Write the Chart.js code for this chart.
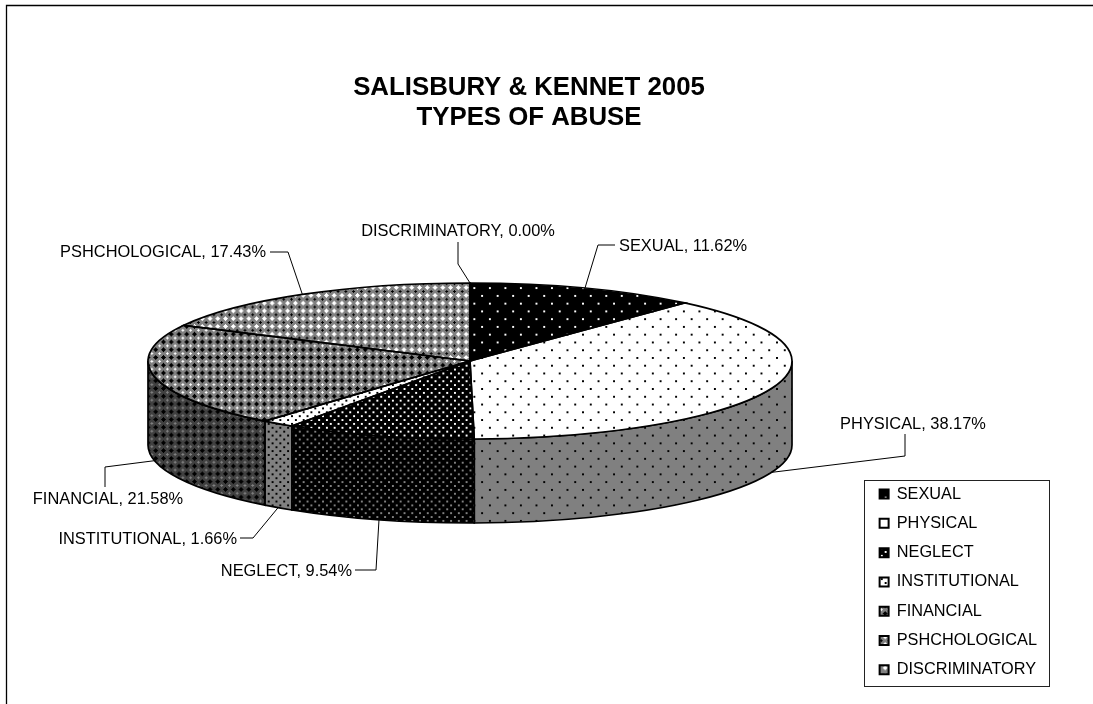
<!DOCTYPE html>
<html>
<head>
<meta charset="utf-8">
<title>Salisbury & Kennet 2005</title>
<script src="https://cdn.jsdelivr.net/npm/chart.js@4"></script>
<style>
    html, body { margin: 0; padding: 0; background: #fff; }
    canvas { display: block; }
</style>
</head>
<body>
<canvas id="chart" width="1093" height="704"></canvas>
<script>
// chart data
var titleLines = ['SALISBURY & KENNET 2005', 'TYPES OF ABUSE'];
var categories = ['SEXUAL', 'PHYSICAL', 'NEGLECT', 'INSTITUTIONAL', 'FINANCIAL', 'PSHCHOLOGICAL', 'DISCRIMINATORY'];
var percentages = [11.62, 38.17, 9.54, 1.66, 21.58, 17.43, 0.00];

// where the flattened pie sits on the page
var pieCentreX = 470, pieCentreY = 361, pieRadiusX = 322, pieRadiusY = 78, pieDepth = 84;
var labelFont = '16.4px "Liberation Sans", Arial, sans-serif';

// label placement: [[leader points after the rim], text x, text y, text align], one per category
var labelLayout = [
    [[[598, 245], [615, 245]], 619, 246.5, 'left'],
    [[[905, 456], [905, 434]], 913, 424.5, 'center'],
    [[[376, 570], [355, 570]], 352, 571.5, 'right'],
    [[[253, 538], [240, 538]], 237, 539.5, 'right'],
    [[[105, 467], [105, 487]], 108, 499.5, 'center'],
    [[[288, 252], [270, 252]], 266, 252.5, 'right'],
    [[[458, 264], [458, 242]], 458, 231.5, 'center']
];

// tiles use '#' black, 'o' paper, ':' half paper
function dotTile(size, dot, ground) {
    var rows = [];
    for (var y = 0; y < size; y++) {
        var row = '';
        for (var x = 0; x < size; x++) {
            var first = x < 2 && y < 2;
            var second = x >= size / 2 && x < size / 2 + 2 && y >= size / 2 && y < size / 2 + 2;
            row += (first || second) ? dot : ground;
        }
        rows.push(row);
    }
    return rows;
}

function crossTile(cross, dot) {
    var rows = [];
    for (var y = 0; y < 8; y++) {
        var row = '';
        for (var x = 0; x < 8; x++) {
            var nearCross = Math.min(x, 8 - x) + Math.min(y, 8 - y) <= 2;
            var nearDot = Math.abs(x - 4) + Math.abs(y - 4) <= 1;
            row += nearCross ? cross : nearDot ? dot : ':';
        }
        rows.push(row);
    }
    return rows;
}

var sliceTiles = [
    dotTile(16, 'o', '#'),
    dotTile(16, '#', 'o'),
    dotTile(8, 'o', '#'),
    dotTile(8, '#', 'o'),
    crossTile('#', 'o'),
    crossTile('o', '#'),
    crossTile('o', ':')
];

var tileScale = 0.97;

function makePattern(rows, paper, half) {
    var size = rows.length;
    var tile = document.createElement('canvas');
    tile.width = size;
    tile.height = size;
    var tctx = tile.getContext('2d');
    var colours = { '#': '#000000', 'o': paper, ':': half };
    rows.forEach(function(row, y) {
        row.split('').forEach(function(ch, x) {
            tctx.fillStyle = colours[ch];
            tctx.fillRect(x, y, 1, 1);
        });
    });
    var pattern = tctx.createPattern(tile, 'repeat');
    pattern.setTransform(new DOMMatrix().scale(tileScale));
    return pattern;
}

var topPatterns = sliceTiles.map(function(rows) { return makePattern(rows, '#ffffff', '#808080'); });
var wallPatterns = sliceTiles.map(function(rows) { return makePattern(rows, '#808080', '#404040'); });

var pie3d = {
    id: 'pie3d',
    beforeDraw: function(chart) {
        var ctx = chart.ctx;
        // page frame, runs off the right and bottom edges
        ctx.save();
        ctx.fillStyle = '#ffffff';
        ctx.fillRect(0, 0, chart.width, chart.height);
        ctx.beginPath();
        ctx.moveTo(6.5, chart.height);
        ctx.lineTo(6.5, 5.5);
        ctx.lineTo(chart.width, 5.5);
        ctx.strokeStyle = '#000000';
        ctx.lineWidth = 1.3;
        ctx.stroke();
        // legend box
        ctx.lineWidth = 1;
        ctx.strokeStyle = '#222222';
        ctx.strokeRect(864.5, 480.5, 185, 206);
        ctx.restore();
    },
    beforeDatasetsDraw: function(chart) {
        var ctx = chart.ctx;
        var arcs = chart.getDatasetMeta(0).data;
        // side wall, only the part of each slice facing the viewer
        ctx.save();
        ctx.strokeStyle = '#000000';
        ctx.lineWidth = 1.7;
        arcs.forEach(function(arc, i) {
            var from = Math.max(arc.startAngle, 0);
            var to = Math.min(arc.endAngle, Math.PI);
            if (to <= from) return;
            ctx.beginPath();
            ctx.ellipse(pieCentreX, pieCentreY, pieRadiusX, pieRadiusY, 0, from, to);
            ctx.ellipse(pieCentreX, pieCentreY + pieDepth, pieRadiusX, pieRadiusY, 0, to, from, true);
            ctx.closePath();
            ctx.fillStyle = wallPatterns[i];
            ctx.fill();
            ctx.stroke();
        });
        ctx.restore();

        // squash the library's round pie into the top ellipse
        var r = arcs[0].outerRadius;
        ctx.save();
        ctx.translate(pieCentreX, pieCentreY);
        ctx.scale(pieRadiusX / r, pieRadiusY / r);
        ctx.translate(-arcs[0].x, -arcs[0].y);
        var toScreen = ctx.getTransform().inverse().scale(tileScale);
        topPatterns.forEach(function(p) { p.setTransform(toScreen); });
    },
    afterDatasetsDraw: function(chart) {
        var ctx = chart.ctx;
        ctx.restore();
        topPatterns.forEach(function(p) { p.setTransform(new DOMMatrix().scale(tileScale)); });
        var arcs = chart.getDatasetMeta(0).data;
        ctx.save();
        ctx.strokeStyle = '#000000';
        ctx.lineWidth = 1.7;
        arcs.forEach(function(arc) {
            ctx.beginPath();
            ctx.moveTo(pieCentreX, pieCentreY);
            ctx.ellipse(pieCentreX, pieCentreY, pieRadiusX, pieRadiusY, 0, arc.startAngle, arc.endAngle);
            ctx.closePath();
            ctx.stroke();
        });
        ctx.restore();
    },
    afterDraw: function(chart) {
        var ctx = chart.ctx;
        var arcs = chart.getDatasetMeta(0).data;
        ctx.save();
        ctx.font = labelFont;
        ctx.fillStyle = '#000000';
        ctx.strokeStyle = '#000000';
        ctx.lineWidth = 1;
        ctx.textBaseline = 'middle';
        arcs.forEach(function(arc, i) {
            var layout = labelLayout[i];
            var mid = (arc.startAngle + arc.endAngle) / 2;
            var startY = pieCentreY + pieRadiusY * Math.sin(mid) + (Math.sin(mid) > 0 ? pieDepth : 0);
            ctx.beginPath();
            ctx.moveTo(pieCentreX + pieRadiusX * Math.cos(mid), startY);
            layout[0].forEach(function(pt) { ctx.lineTo(pt[0], pt[1]); });
            ctx.stroke();
            ctx.textAlign = layout[3];
            ctx.fillText(categories[i] + ', ' + percentages[i].toFixed(2) + '%', layout[1], layout[2]);
        });
        ctx.restore();
    }
};

var ctx = document.getElementById('chart').getContext('2d');
var myChart = new Chart(ctx, {
    type: 'pie',
    plugins: [pie3d],
    data: {
        labels: categories,
        datasets: [{
            data: percentages,
            backgroundColor: topPatterns,
            borderWidth: 0,
            clip: false
        }]
    },
    options: {
        responsive: false,
        animation: false,
        layout: { padding: { left: 11, right: 46, top: 73, bottom: 13 } },
        plugins: {
            tooltip: { enabled: false },
            title: {
                display: true,
                text: titleLines,
                color: '#000000',
                font: { family: '"Liberation Sans", Arial, sans-serif', size: 25.8, weight: 'bold', lineHeight: 1.16 },
                padding: { top: 0, bottom: 10 }
            },
            legend: {
                position: 'right',
                align: 'end',
                labels: {
                    color: '#000000',
                    font: { family: '"Liberation Sans", Arial, sans-serif', size: 16.3, lineHeight: 0.95 },
                    boxWidth: 9,
                    boxHeight: 9,
                    padding: 13,
                    generateLabels: function(chart) {
                        return Chart.overrides.doughnut.plugins.legend.labels.generateLabels(chart).map(function(item) {
                            item.strokeStyle = '#000000';
                            item.lineWidth = 2;
                            return item;
                        });
                    }
                }
            }
        }
    }
});
</script>
</body>
</html>
